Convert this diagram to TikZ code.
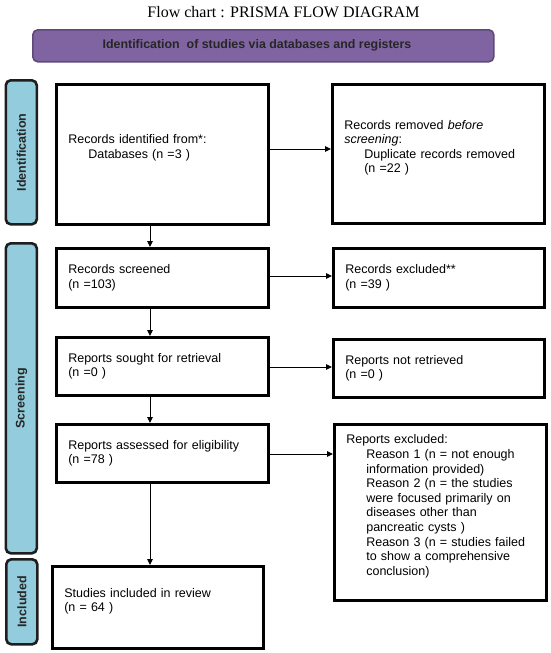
\documentclass[tikz,border=0pt]{standalone}
\usepackage{fontspec}
\setmainfont{Liberation Sans}
\newfontfamily\serifttl{Liberation Serif}
\usetikzlibrary{arrows.meta}
\definecolor{barpurple}{HTML}{8064A2}
\definecolor{barborder}{HTML}{5F497A}
\definecolor{sideblue}{HTML}{93CDDD}
\definecolor{sideborder}{HTML}{1E1E1E}
\tikzset{
  flowbox/.style={draw=black, line width=2.6pt, fill=white, inner xsep=12pt, inner ysep=4pt,
    align=left, font=\fontsize{12.5}{14.6}\selectfont, anchor=north west},
  sidebox/.style={draw=sideborder, line width=2.6pt, fill=sideblue, rounded corners=5pt},
  sidelabel/.style={rotate=90, font=\bfseries\fontsize{12.5}{14}\selectfont, text=black!85},
  flowarrow/.style={-{Triangle[length=6pt,width=5.5pt]}, line width=0.9pt}
}
\begin{document}
\begin{tikzpicture}[x=1pt,y=-1pt]
\useasboundingbox (0,0) rectangle (550,653);
% title
\node (title) at (283.5,12.5) {\serifttl\fontsize{16}{18}\selectfont Flow chart : PRISMA FLOW DIAGRAM};
% purple bar
\node[draw=barborder, line width=1.6pt, fill=barpurple, rounded corners=5pt,
  minimum width=461pt, minimum height=32pt, anchor=north west, inner sep=0pt] (bar) at (32,29) {};
\node[font=\bfseries\fontsize{12.4}{14}\selectfont, text=black!85] (bartext) at (257,45)
  {Identification \ of studies via databases and registers};
% side labels
\node[sidebox, minimum width=31pt, minimum height=144pt, anchor=north west] (sid) at (4.5,79) {};
\node[sidelabel] (sidt) at (sid.center) {Identification};
\node[sidebox, minimum width=31pt, minimum height=310pt, anchor=north west] (sscr) at (4.5,242) {};
\node[sidelabel] (sscrt) at (sscr.center) {Screening};
\node[sidebox, minimum width=31pt, minimum height=85pt, anchor=north west] (sinc) at (5,558) {};
\node[sidelabel] (sinct) at (sinc.center) {Included};
% boxes
\node[flowbox, minimum width=212pt, minimum height=140pt, text width=188pt] (b1) at (55,83)
  {Records identified from*:\\\hspace*{20pt}Databases (n =3 )\\[1.5pt]\mbox{}};
\node[flowbox, minimum width=212pt, minimum height=139pt, text width=188pt] (b2) at (331,83)
  {Records removed \textit{before}\\\textit{screening}:\\\hspace*{20pt}Duplicate records removed\\\hspace*{20pt}(n =22 )\\\mbox{}};
\node[flowbox, minimum width=212pt, minimum height=59pt, text width=188pt] (b3) at (55,247)
  {Records screened\\(n =103)};
\node[flowbox, minimum width=211pt, minimum height=59pt, text width=187pt] (b4) at (332,247)
  {Records excluded**\\(n =39 )};
\node[flowbox, minimum width=212pt, minimum height=58pt, text width=188pt] (b5) at (55,336)
  {Reports sought for retrieval\\(n =0 )};
\node[flowbox, minimum width=211pt, minimum height=58pt, text width=187pt] (b6) at (332,338)
  {Reports not retrieved\\(n =0 )};
\node[flowbox, minimum width=212pt, minimum height=58pt, text width=188pt] (b7) at (55,423)
  {Reports assessed for eligibility\\(n =78 )};
\node[flowbox, minimum width=212pt, minimum height=176pt, text width=188pt] (b8) at (333,423)
  {Reports excluded:\\
   \hspace*{20pt}Reason 1 (n = not enough\\
   \hspace*{20pt}information provided)\\
   \hspace*{20pt}Reason 2 (n = the studies\\
   \hspace*{20pt}were focused primarily on\\
   \hspace*{20pt}diseases other than\\
   \hspace*{20pt}pancreatic cysts )\\
   \hspace*{20pt}Reason 3 (n = studies failed\\
   \hspace*{20pt}to show a comprehensive\\
   \hspace*{20pt}conclusion)\\\mbox{}};
\node[flowbox, minimum width=211pt, minimum height=82pt, text width=187pt] (b9) at (51,565)
  {Studies included in review\\(n = 64 )\\\mbox{}};
% arrows
\draw[flowarrow] (b1.east |- 0,149) -- (b2.west |- 0,149);
\draw[flowarrow] (b3.east |- 0,276) -- (b4.west |- 0,276);
\draw[flowarrow] (b5.east |- 0,367) -- (b6.west |- 0,367);
\draw[flowarrow] (b7.east |- 0,454) -- (b8.west |- 0,454);
\draw[flowarrow] (b1.south -| 150,0) -- (b3.north -| 150,0);
\draw[flowarrow] (b3.south -| 150,0) -- (b5.north -| 150,0);
\draw[flowarrow] (b5.south -| 150,0) -- (b7.north -| 150,0);
\draw[flowarrow] (b7.south -| 150,0) -- (b9.north -| 150,0);
\end{tikzpicture}
\end{document}
